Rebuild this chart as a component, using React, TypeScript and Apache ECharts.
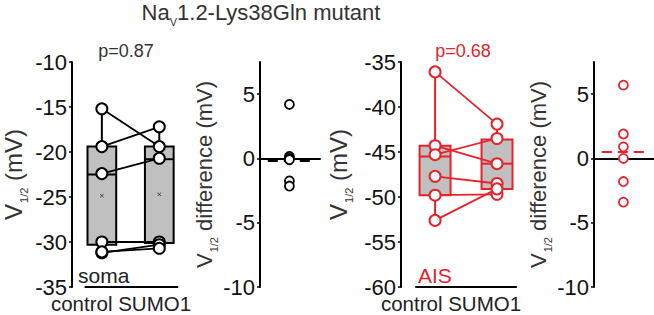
import React, { useEffect, useRef } from 'react';
import * as echarts from 'echarts';

// ---- data ----
const groupX = [1, 2]; // control, SUMO1
const somaControl = [-15.2, -19.4, -22.4, -30.0, -31.2, -31.1];
const somaSumo = [-19.4, -17.2, -20.7, -30.0, -30.3, -30.7];
// box rows: [x, lower quartile, median, upper quartile, min, max]
const somaBoxes = [
  [1, -30.3, -22.5, -19.4, -31.2, -15.2],
  [2, -30.1, -20.8, -19.4, -30.7, -17.2],
];
const somaMeans = [-24.85, -24.7];
const somaDiff = [4.2, 0.15, 0.0, -0.1, -1.75, -2.15];
const somaDiffMean = -0.15;

const aisControl = [-36.1, -44.3, -45.3, -47.7, -49.8, -52.6];
const aisSumo = [-41.9, -46.3, -43.5, -48.5, -49.7, -49.1];
const aisBoxes = [
  [1, -49.8, -45.5, -44.3, -52.6, -36.1],
  [2, -49.1, -46.3, -43.6, -49.7, -41.9],
];
const aisDiff = [5.7, 1.9, 0.9, 0.0, -1.8, -3.4];
const aisDiffMean = 0.55;

const somaTicks = [-35, -30, -25, -20, -15, -10];
const aisTicks = [-60, -55, -50, -45, -40, -35];
const diffTicks = [-10, -5, 0, 5];
const pValues = ['p=0.87', 'p=0.68'];
const groupLabel = 'control SUMO1';
const regionLabels = ['soma', 'AIS'];

const FONT = '"Liberation Sans", Arial, Helvetica, sans-serif';
const RED = '#e5232b';
const GRAY = '#c0c0c0';

function nameRich(size: number) {
  return {
    m: { fontSize: size, lineHeight: size + 4, verticalAlign: 'top', color: '#333', fontFamily: FONT },
    s: { fontSize: 11, lineHeight: 12, verticalAlign: 'top', padding: [Math.round(size * 0.7), 0, 0, 1], color: '#333', fontFamily: FONT },
  };
}

function yAxis(gridIndex: number, min: number, max: number, ticks: number[], name: string, gap: number, nameSize: number) {
  return {
    type: 'value',
    gridIndex,
    min,
    max,
    interval: 5,
    name,
    nameLocation: 'middle',
    nameRotate: 90,
    nameGap: gap,
    nameTextStyle: { rich: nameRich(nameSize) },
    axisLine: { show: true, lineStyle: { color: '#000', width: 2 } },
    axisTick: { show: true, length: 3, customValues: ticks, lineStyle: { color: '#000', width: 1.5 } },
    axisLabel: { fontSize: 22, lineHeight: 18, color: '#111', margin: 5, fontFamily: FONT, customValues: ticks },
    splitLine: { show: false },
  };
}

function boxRender(color: string) {
  return (params: any, api: any) => {
    const x = api.value(0);
    const lo = api.coord([x, api.value(1)]);
    const med = api.coord([x, api.value(2)]);
    const hi = api.coord([x, api.value(3)]);
    const mn = api.coord([x, api.value(4)]);
    const mx = api.coord([x, api.value(5)]);
    const hw = api.size([0.25, 0])[0];
    const cx = lo[0];
    const st = { stroke: color, lineWidth: 2 };
    return {
      type: 'group',
      children: [
        { type: 'line', shape: { x1: cx, y1: mn[1], x2: cx, y2: lo[1] }, style: st },
        { type: 'line', shape: { x1: cx, y1: hi[1], x2: cx, y2: mx[1] }, style: st },
        { type: 'rect', shape: { x: cx - hw, y: hi[1], width: hw * 2, height: lo[1] - hi[1] }, style: { fill: GRAY, stroke: color, lineWidth: 2 } },
        { type: 'line', shape: { x1: cx - hw, y1: med[1], x2: cx + hw, y2: med[1] }, style: st },
      ],
    };
  };
}

function pairRender(color: string) {
  return (params: any, api: any) => {
    const a = api.coord([groupX[0], api.value(0)]);
    const b = api.coord([groupX[1], api.value(1)]);
    return { type: 'line', shape: { x1: a[0], y1: a[1], x2: b[0], y2: b[1] }, style: { stroke: color, lineWidth: 1.8 } };
  };
}

function pairedSeries(idx: number, ctrl: number[], sumo: number[], boxes: number[][], color: string, baseY: number, lineFrom: number, lineTo: number) {
  const pts = [...ctrl.map((v) => [groupX[0], v]), ...sumo.map((v) => [groupX[1], v])];
  return [
    {
      type: 'custom', xAxisIndex: idx, yAxisIndex: idx, z: 2, silent: true,
      renderItem: boxRender(color), data: boxes,
    },
    {
      type: 'custom', xAxisIndex: idx, yAxisIndex: idx, z: 3, silent: true,
      renderItem: pairRender(color), data: ctrl.map((v, i) => [v, sumo[i]]),
    },
    {
      type: 'scatter', xAxisIndex: idx, yAxisIndex: idx, z: 4, silent: true,
      symbol: 'circle', symbolSize: 11,
      itemStyle: { color: '#fff', borderColor: color, borderWidth: 2, opacity: 1 },
      data: pts,
      markLine: {
        silent: true, symbol: 'none', label: { show: false },
        lineStyle: { color: '#000', width: 2, type: 'solid' },
        data: [[{ coord: [lineFrom, baseY] }, { coord: [lineTo, baseY] }]],
      },
    },
  ];
}

function diffSeries(idx: number, vals: number[], mean: number, color: string) {
  return {
    type: 'scatter', xAxisIndex: idx, yAxisIndex: idx, z: 4, silent: true,
    symbol: 'circle', symbolSize: 9,
    itemStyle: { color: '#fff', borderColor: color, borderWidth: 1.8, opacity: 1 },
    data: vals.map((v) => [0.49, v]),
    markLine: {
      silent: true, symbol: 'none', label: { show: false }, z: 3,
      lineStyle: { color, width: color === '#000' ? 3 : 2, type: [10, 6] },
      data: [[{ coord: [0.13, mean] }, { coord: [0.83, mean] }]],
    },
  };
}

export default function App() {
  const ref = useRef<HTMLDivElement>(null);
  useEffect(() => {
    if (!ref.current) return;
    const chart = echarts.init(ref.current, undefined, { renderer: 'svg' });
    const top = 62;
    const height = 225;
    const yName = '{m|V}{s|1/2}{m| (mV)}';
    const dName = '{m|V}{s|1/2}{m| difference (mV)}';
    const hiddenX = (gridIndex: number, min: number, max: number) => ({
      type: 'value', gridIndex, min, max, show: false,
    });
    const diffX = (gridIndex: number) => ({
      type: 'value', gridIndex, min: 0, max: 1,
      axisLine: { show: true, onZero: true, lineStyle: { color: '#000', width: 2 } },
      axisTick: { show: false }, axisLabel: { show: false }, splitLine: { show: false },
    });
    const option: any = {
      animation: false,
      textStyle: { fontFamily: FONT },
      grid: [
        { left: 63, top, width: 125, height },
        { left: 260, top, width: 60, height },
        { left: 401, top, width: 127, height },
        { left: 594, top, width: 60, height },
      ],
      xAxis: [hiddenX(0, 0.48, 2.5), diffX(1), hiddenX(2, 0.45, 2.5), diffX(3)],
      yAxis: [
        yAxis(0, -35, -10, somaTicks, yName, 43, 24),
        yAxis(1, -10, 7.5, diffTicks, dName, 34, 22),
        yAxis(2, -60, -35, aisTicks, yName, 47, 24),
        yAxis(3, -10, 7.5, diffTicks, dName, 35, 22),
      ],
      series: [
        ...pairedSeries(0, somaControl, somaSumo, somaBoxes, '#000', -35, 0.7, 2.33),
        {
          type: 'scatter', xAxisIndex: 0, yAxisIndex: 0, z: 5, silent: true,
          symbol: 'path://M0,1L1,0L5,4L9,0L10,1L6,5L10,9L9,10L5,6L1,10L0,9L4,5Z',
          symbolSize: 4, itemStyle: { color: '#000' },
          data: somaMeans.map((v, i) => [groupX[i], v]),
        },
        diffSeries(1, somaDiff, somaDiffMean, '#000'),
        ...pairedSeries(2, aisControl, aisSumo, aisBoxes, RED, -60, 0.68, 2.32),
        diffSeries(3, aisDiff, aisDiffMean, RED),
      ],
      graphic: [
        {
          type: 'text', x: 261, y: 14, silent: true,
          style: {
            text: '{a|Na}{s|V}{a|1.2-Lys38Gln mutant}',
            align: 'center', verticalAlign: 'middle',
            rich: {
              a: { fontSize: 22, lineHeight: 26, verticalAlign: 'top', fill: '#333', fontFamily: FONT },
              s: { fontSize: 11, lineHeight: 12, verticalAlign: 'top', padding: [15, 0, 0, 0], fill: '#333', fontFamily: FONT },
            },
          },
        },
        { type: 'text', x: 126, y: 51, silent: true, style: { text: pValues[0], align: 'center', verticalAlign: 'middle', fontSize: 18, fill: '#333', fontFamily: FONT } },
        { type: 'text', x: 463, y: 51, silent: true, style: { text: pValues[1], align: 'center', verticalAlign: 'middle', fontSize: 18, fill: RED, fontFamily: FONT } },
        { type: 'text', x: 78, y: 275, silent: true, style: { text: regionLabels[0], align: 'left', verticalAlign: 'middle', fontSize: 21, fill: '#222', fontFamily: FONT } },
        { type: 'text', x: 418, y: 275, silent: true, style: { text: regionLabels[1], align: 'left', verticalAlign: 'middle', fontSize: 21, fill: RED, fontFamily: FONT } },
        { type: 'text', x: 121, y: 303.5, silent: true, style: { text: groupLabel, align: 'center', verticalAlign: 'middle', fontSize: 20.5, fill: '#222', fontFamily: FONT } },
        { type: 'text', x: 451, y: 303.5, silent: true, style: { text: groupLabel, align: 'center', verticalAlign: 'middle', fontSize: 20.5, fill: '#222', fontFamily: FONT } },
      ],
    };
    chart.setOption(option);
    return () => chart.dispose();
  }, []);
  return <div ref={ref} style={{ position: 'fixed', left: 0, top: 0, width: 654, height: 315, background: '#fff' }} />;
}
